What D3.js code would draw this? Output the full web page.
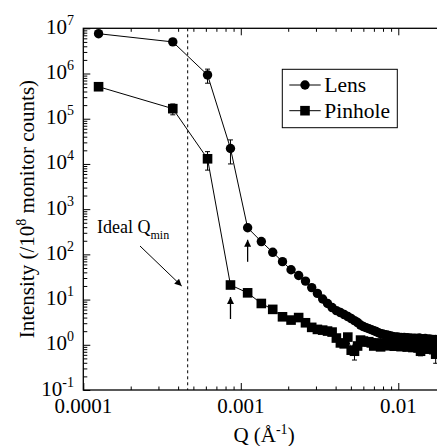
<!DOCTYPE html>
<html>
<head>
<meta charset="utf-8">
<script src="https://cdn.jsdelivr.net/npm/d3@7"></script>
<style>
  body { margin: 0; background: #fff; }
  text { font-family: "Liberation Serif", "Times New Roman", serif; fill: #000; }
</style>
</head>
<body>
<div id="chart-area"></div>
<script>
// Q values (1/A), shared by both series
var q = [0.000125, 0.000370, 0.000615, 0.000860, 0.001105, 0.001350, 0.001595, 0.001840,
  0.002085, 0.002330, 0.002575, 0.002820, 0.003065, 0.003310, 0.003555, 0.003800,
  0.004045, 0.004290, 0.004535, 0.004780, 0.005025, 0.005270, 0.005515, 0.005760,
  0.006005, 0.006250, 0.006495, 0.006740, 0.006985, 0.007230, 0.007475, 0.007720,
  0.007965, 0.008210, 0.008455, 0.008700, 0.008945, 0.009190, 0.009435, 0.009680,
  0.009925, 0.010170, 0.010415, 0.010660, 0.010905, 0.011150, 0.011395, 0.011640,
  0.011885, 0.012130, 0.012375, 0.012620, 0.012865, 0.013110, 0.013355, 0.013600,
  0.013845, 0.014090, 0.014335, 0.014580, 0.014825, 0.015070, 0.015315, 0.015560,
  0.015805, 0.016050, 0.016295, 0.016540, 0.016785, 0.017030, 0.017275, 0.017520,
  0.017765];

var lens = [7.6e6, 5.0e6, 9.3e5, 2.2e4, 387, 192, 111, 69,
  45.6, 34, 25.6, 18.4, 13.7, 10.3, 8.2, 6.66,
  5.71, 5.16, 4.66, 4.21, 3.80, 3.43, 3.10, 2.73,
  2.53, 2.40, 2.28, 2.17, 2.06, 1.96, 1.86, 1.77,
  1.73, 1.68, 1.64, 1.60, 1.56, 1.52, 1.50, 1.47,
  1.49, 1.44, 1.46, 1.42, 1.45, 1.40, 1.43, 1.38,
  1.41, 1.36, 1.39, 1.35, 1.40, 1.33, 1.37, 1.41,
  1.34, 1.30, 1.36, 1.32, 1.38, 1.29, 1.33, 1.27,
  1.35, 1.30, 1.26, 1.32, 1.24, 1.29, 1.31, 1.25,
  1.28];

var pinhole = [5.1e5, 1.67e5, 1.3e4, 21, 14.1, 8.2, 6.07, 4.16,
  3.52, 4.0, 3.07, 2.43, 2.19, 2.11, 2.01, 1.91,
  1.41, 1.10, 1.05, 1.48, 0.76, 0.72, 0.94, 1.27,
  1.21, 1.15, 1.17, 1.10, 0.94, 1.10, 1.05, 0.90,
  1.00, 1.10, 1.02, 0.95, 1.08, 1.00, 0.93, 1.05,
  0.98, 1.03, 0.91, 1.01, 0.96, 1.04, 0.89, 0.99,
  0.94, 1.02, 0.87, 0.97, 1.00, 0.92, 0.85, 0.98,
  0.72, 0.95, 0.90, 1.01, 0.84, 0.96, 0.88, 0.93,
  0.80, 0.97, 0.86, 0.91, 0.78, 0.94, 0.62, 0.89,
  0.85];

// error bars that show outside the markers: point index and +/- size
var lensErrIdx = [2, 3];
var lensErr = [3.2e5, 1.2e4];
var pinErrIdx = [1, 2, 21, 56, 70];
var pinErr = [4.5e4, 5.7e3, 0.26, 0.15, 0.23];

var qMinIdeal = 4.6e-4;
var xTickValues = [0.0001, 0.001, 0.01];
var xTickLabels = ["0.0001", "0.001", "0.01"];
var yExponents = [-1, 0, 1, 2, 3, 4, 5, 6, 7];
var seriesNames = ["Lens", "Pinhole"];

var width = 437, height = 446;
var plotL = 83.3, plotT = 28.3, plotR = 445.7, plotB = 390;

var svg = d3.select("#chart-area").append("svg")
    .attr("width", width)
    .attr("height", height);

var x = d3.scaleLog().domain([1e-4, 2e-2]).range([plotL, plotR]);
var y = d3.scaleLog().domain([1e-1, 1e7]).range([plotB, plotT]);

var defs = svg.append("defs");
defs.append("marker")
    .attr("id", "head")
    .attr("viewBox", "0 0 10 10")
    .attr("refX", 10).attr("refY", 5)
    .attr("markerWidth", 10).attr("markerHeight", 7)
    .attr("markerUnits", "userSpaceOnUse")
    .attr("orient", "auto")
  .append("path")
    .attr("d", "M0,0 L10,5 L0,10 Z")
    .attr("fill", "#000");

// minor tick values
var xMinor = [];
[1e-4, 1e-3, 1e-2].forEach(function(d){
    for (var k = 2; k <= 9; k++) { if (d * k <= 2e-2) xMinor.push(d * k); }
});
var yMinor = [];
yExponents.forEach(function(e){
    if (e === 7) return;
    for (var k = 2; k <= 9; k++) yMinor.push(k * Math.pow(10, e));
});
var yMajor = yExponents.map(function(e){ return Math.pow(10, e); });

// axes: ticks point inward
svg.append("g").attr("transform", "translate(0," + plotB + ")")
    .call(d3.axisBottom(x).tickValues(xTickValues).tickSize(-7).tickFormat(""));
svg.append("g").attr("transform", "translate(0," + plotB + ")")
    .call(d3.axisBottom(x).tickValues(xMinor).tickSize(-3.5).tickFormat(""));
svg.append("g").attr("transform", "translate(0," + plotT + ")")
    .call(d3.axisTop(x).tickValues(xTickValues).tickSize(-7).tickFormat(""));
svg.append("g").attr("transform", "translate(0," + plotT + ")")
    .call(d3.axisTop(x).tickValues(xMinor).tickSize(-3.5).tickFormat(""));
svg.append("g").attr("transform", "translate(" + plotL + ",0)")
    .call(d3.axisLeft(y).tickValues(yMajor).tickSize(-7).tickFormat(""));
svg.append("g").attr("transform", "translate(" + plotL + ",0)")
    .call(d3.axisLeft(y).tickValues(yMinor).tickSize(-4).tickFormat(""));
svg.selectAll(".domain").remove();
svg.selectAll(".tick line").attr("stroke", "#000").attr("stroke-width", 1);

svg.append("rect")
    .attr("x", plotL).attr("y", plotT)
    .attr("width", plotR - plotL).attr("height", plotB - plotT)
    .attr("fill", "none").attr("stroke", "#000").attr("stroke-width", 1.3);

// x tick labels
svg.selectAll(".xlab").data(xTickValues).enter().append("text")
    .attr("class", "xlab")
    .attr("x", function(d){ return x(d); })
    .attr("y", 412.5)
    .attr("text-anchor", "middle")
    .attr("font-size", 21)
    .text(function(d, i){ return xTickLabels[i]; });

// y tick labels 10^n
var ylab = svg.selectAll(".ylab").data(yExponents).enter().append("text")
    .attr("class", "ylab")
    .attr("x", 74)
    .attr("y", function(d){ return y(Math.pow(10, d)) + 5.5; })
    .attr("text-anchor", "end")
    .attr("font-size", 21);
ylab.append("tspan").text("10");
ylab.append("tspan").attr("dy", -9).attr("font-size", 14)
    .text(function(d){ return d; });

// axis titles
svg.append("text")
    .attr("x", 264).attr("y", 442)
    .attr("text-anchor", "middle")
    .attr("font-size", 21)
    .call(function(t){
        t.append("tspan").text("Q (\u00C5");
        t.append("tspan").attr("dy", -8).attr("font-size", 14).text("-1");
        t.append("tspan").attr("dy", 8).text(")");
    });

svg.append("text")
    .attr("transform", "translate(34," + ((plotT + plotB) / 2) + ") rotate(-90)")
    .attr("text-anchor", "middle")
    .attr("font-size", 21)
    .call(function(t){
        t.append("tspan").text("Intensity (/10");
        t.append("tspan").attr("dy", -8).attr("font-size", 14).text("8");
        t.append("tspan").attr("dy", 8).text(" monitor counts)");
    });

// ideal Qmin line
svg.append("line")
    .attr("x1", x(qMinIdeal)).attr("x2", x(qMinIdeal))
    .attr("y1", plotT).attr("y2", plotB)
    .attr("stroke", "#000").attr("stroke-width", 1)
    .attr("stroke-dasharray", "3,3");

svg.append("text")
    .attr("x", 97).attr("y", 233)
    .attr("font-size", 18)
    .call(function(t){
        t.append("tspan").text("Ideal Q");
        t.append("tspan").attr("dy", 6).attr("font-size", 12).text("min");
    });
svg.append("line")
    .attr("x1", 140).attr("y1", 246)
    .attr("x2", x(qMinIdeal) - 6).attr("y2", 286)
    .attr("stroke", "#000").attr("stroke-width", 1)
    .attr("marker-end", "url(#head)");

// error bars
function errBars(vals, idx, errs) {
    idx.forEach(function(i, k){
        var cx = x(q[i]);
        var hi = y(vals[i] + errs[k]);
        var lo = y(Math.max(vals[i] - errs[k], 1e-3));
        var g = svg.append("g").attr("stroke", "#000").attr("stroke-width", 1);
        g.append("line").attr("x1", cx).attr("x2", cx).attr("y1", hi).attr("y2", lo);
        g.append("line").attr("x1", cx - 2.5).attr("x2", cx + 2.5).attr("y1", hi).attr("y2", hi);
        g.append("line").attr("x1", cx - 2.5).attr("x2", cx + 2.5).attr("y1", lo).attr("y2", lo);
    });
}
errBars(lens, lensErrIdx, lensErr);
errBars(pinhole, pinErrIdx, pinErr);

var line = d3.line()
    .x(function(d, i){ return x(q[i]); })
    .y(function(d){ return y(d); });

svg.append("path").datum(lens)
    .attr("d", line).attr("fill", "none").attr("stroke", "#000").attr("stroke-width", 1);
svg.append("path").datum(pinhole)
    .attr("d", line).attr("fill", "none").attr("stroke", "#000").attr("stroke-width", 1);

svg.selectAll(".lens").data(lens).enter().append("circle")
    .attr("class", "lens")
    .attr("cx", function(d, i){ return x(q[i]); })
    .attr("cy", function(d){ return y(d); })
    .attr("r", 4.7)
    .attr("fill", "#000");

var sq = 9.6;
svg.selectAll(".pin").data(pinhole).enter().append("rect")
    .attr("class", "pin")
    .attr("x", function(d, i){ return x(q[i]) - sq / 2; })
    .attr("y", function(d){ return y(d) - sq / 2; })
    .attr("width", sq).attr("height", sq)
    .attr("fill", "#000");

// cut-off arrows below the first point after the drop
[[lens, 4], [pinhole, 3]].forEach(function(p){
    var cx = x(q[p[1]]);
    var cy = y(p[0][p[1]]);
    svg.append("line")
        .attr("x1", cx).attr("x2", cx)
        .attr("y1", cy + 34).attr("y2", cy + 12)
        .attr("stroke", "#000").attr("stroke-width", 1.3)
        .attr("marker-end", "url(#head)");
});

// legend
var lg = svg.append("g");
lg.append("rect")
    .attr("x", 282.3).attr("y", 69.3)
    .attr("width", 115).attr("height", 58.4)
    .attr("fill", "#fff").attr("stroke", "#000").attr("stroke-width", 1);
seriesNames.forEach(function(name, i){
    var ly = 85 + i * 25.7;
    lg.append("line")
        .attr("x1", 289.3).attr("x2", 320.7)
        .attr("y1", ly).attr("y2", ly)
        .attr("stroke", "#000").attr("stroke-width", 1);
    if (i === 0) {
        lg.append("circle").attr("cx", 305).attr("cy", ly).attr("r", 4.7).attr("fill", "#000");
    } else {
        lg.append("rect").attr("x", 305 - sq / 2).attr("y", ly - sq / 2)
            .attr("width", sq).attr("height", sq).attr("fill", "#000");
    }
    lg.append("text")
        .attr("x", 324.3).attr("y", ly + 7)
        .attr("font-size", 21.5)
        .text(name);
});
</script>
</body>
</html>
